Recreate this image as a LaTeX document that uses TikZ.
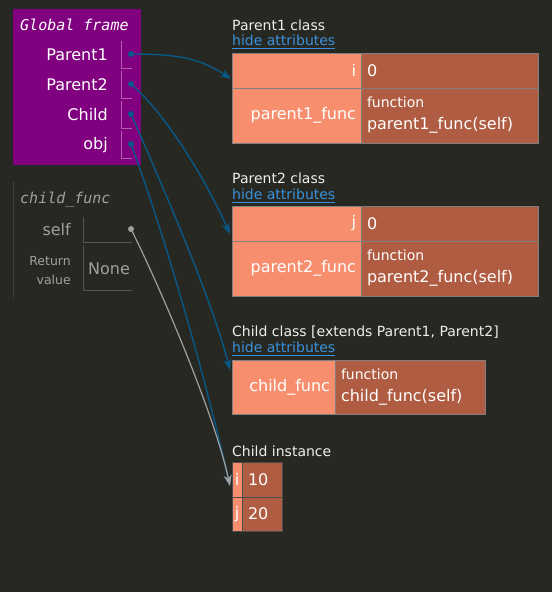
\documentclass[tikz,border=0pt]{standalone}
\usepackage{fontspec}
\usepackage{amsmath}
\usepackage{amssymb}
\setmainfont{DejaVu Sans}
\setmonofont{DejaVu Sans Mono}
\usetikzlibrary{arrows.meta}

\definecolor{bgdark}{RGB}{39,40,34}
\definecolor{framepurple}{RGB}{128,0,128}
\definecolor{slotline}{RGB}{176,96,176}
\definecolor{salmon}{RGB}{247,143,111}
\definecolor{rust}{RGB}{176,92,66}
\definecolor{cellgray}{RGB}{128,128,128}
\definecolor{ptrblue}{RGB}{8,88,136}
\definecolor{linkblue}{RGB}{58,145,220}
\definecolor{headtext}{RGB}{238,238,238}
\definecolor{dimtext}{RGB}{160,160,160}
\definecolor{dimline}{RGB}{85,85,85}

\begin{document}
\begin{tikzpicture}[x=1pt,y=-1pt,
    keycell/.style={draw=cellgray,fill=salmon,text=white,align=right,
      inner xsep=5pt,inner ysep=0pt,font=\fontsize{16}{19}\selectfont},
    valcell/.style={draw=cellgray,fill=rust,text=white,align=left,
      inner xsep=6pt,inner ysep=0pt,font=\fontsize{16}{22}\selectfont},
    heading/.style={anchor=west,inner sep=0pt,text=headtext,font=\fontsize{14}{17}\selectfont},
    hidelink/.style={anchor=west,inner sep=0pt,text=linkblue,font=\fontsize{14}{17}\selectfont},
    dot/.style={circle,inner sep=0pt,minimum size=6pt}]

  \fill[bgdark] (0,0) rectangle (552,592);
  \useasboundingbox (0,0) rectangle (552,592);

  % global frame
  \fill[framepurple] (13,9) rectangle (141,165);
  \node (gtitle) at (20,25) [anchor=west,inner sep=0pt,text=white,
    font=\ttfamily\itshape\fontsize{15}{18}\selectfont] {Global frame};

  \begin{scope}[every node/.style={anchor=east,inner sep=0pt,text=white,
      font=\fontsize{16}{19}\selectfont}]
    \node (lp1) at (108,55) {Parent1};
    \node (lp2) at (108,85) {Parent2};
    \node (lch) at (108,115) {Child};
    \node (lobj) at (108,145) {obj};
  \end{scope}

  \begin{scope}[slotline,line width=1pt]
    \draw (121,41) -- (121,68) -- (132,68);
    \draw (121,71) -- (121,98) -- (132,98);
    \draw (121,101) -- (121,128) -- (132,128);
    \draw (121,131) -- (121,158) -- (132,158);
  \end{scope}

  \begin{scope}[every node/.style={dot,fill=ptrblue}]
    \node (dp1) at (131,54) {};
    \node (dp2) at (131,84) {};
    \node (dch) at (131,114) {};
    \node (dobj) at (131,144) {};
  \end{scope}

  % child_func frame
  \draw[dimline,densely dotted,line width=1pt] (13,183) -- (13,298);
  \node (ftitle) at (20,200) [anchor=west,inner sep=0pt,text=dimtext,
    font=\ttfamily\itshape\fontsize{15}{18}\selectfont] {child\_func};
  \node (lself) at (71,230) [anchor=east,inner sep=0pt,text=dimtext,
    font=\fontsize{16}{19}\selectfont] {self};
  \node (lret) at (71,270.5) [anchor=east,inner sep=0pt,text=dimtext,align=right,
    font=\fontsize{12.5}{19}\selectfont] {Return\\value};
  \node (vnone) at (88,269) [anchor=west,inner sep=0pt,text=dimtext,
    font=\fontsize{16}{19}\selectfont] {None};
  \begin{scope}[dimline,line width=1pt]
    \draw (83,217) -- (83,242) -- (132,242);
    \draw (83,246) -- (83,290) -- (132,290);
  \end{scope}
  \node (dself) at (131,229) [dot,fill=dimtext] {};

  % Parent1 class
  \node (p1lbl) at (232,25) [heading] {Parent1 class};
  \node (p1hide) at (232,42) [hidelink] {\underline{hide attributes}};
  \node (p1i) at (296.5,70.5) [keycell,text width=119pt,minimum height=35pt] {i};
  \node (p1iv) at (449.5,70.5) [valcell,text width=165pt,minimum height=35pt] {0};
  \node (p1f) at (296.5,115.5) [keycell,text width=119pt,minimum height=55pt] {parent1\_func};
  \node (p1fv) at (449.5,115.5) [valcell,text width=165pt,minimum height=55pt]
    {{\fontsize{14}{22}\selectfont function}\\parent1\_func(self)};

  % Parent2 class
  \node (p2lbl) at (232,178) [heading] {Parent2 class};
  \node (p2hide) at (232,196) [hidelink] {\underline{hide attributes}};
  \node (p2j) at (296.5,223.5) [keycell,text width=119pt,minimum height=35pt] {j};
  \node (p2jv) at (449.5,223.5) [valcell,text width=165pt,minimum height=35pt] {0};
  \node (p2f) at (296.5,268.5) [keycell,text width=119pt,minimum height=55pt] {parent2\_func};
  \node (p2fv) at (449.5,268.5) [valcell,text width=165pt,minimum height=55pt]
    {{\fontsize{14}{22}\selectfont function}\\parent2\_func(self)};

  % Child class
  \node (chlbl) at (232,332) [heading] {Child class [extends Parent1, Parent2]};
  \node (chhide) at (232,349) [hidelink] {\underline{hide attributes}};
  \node (chf) at (283.5,387) [keycell,text width=93pt,minimum height=54pt] {child\_func};
  \node (chfv) at (410,387) [valcell,text width=138pt,minimum height=54pt]
    {{\fontsize{14}{22}\selectfont function}\\child\_func(self)};

  % Child instance
  \node (oblbl) at (232,451) [heading] {Child instance};
  \begin{scope}[every node/.style={inner sep=0pt,text=white,draw=black!70,
      font=\fontsize{16}{19}\selectfont}]
    \node (obi) at (237,479.5) [fill=salmon,minimum width=10pt,minimum height=35pt] {i};
    \node (obiv) at (262,479.5) [fill=rust,minimum width=40pt,minimum height=35pt,
      text width=28pt,align=left] {10};
    \node (obj) at (237,514) [fill=salmon,minimum width=10pt,minimum height=34pt] {j};
    \node (objv) at (262,514) [fill=rust,minimum width=40pt,minimum height=34pt,
      text width=28pt,align=left] {20};
  \end{scope}

  % pointers
  \coordinate (p1in) at (231,79);
  \coordinate (p2in) at (230,234);
  \coordinate (chin) at (230,370);
  \coordinate (obin) at (230,486);

  \begin{scope}[ptrblue,line width=1.4pt,-{Stealth[length=11pt,width=8pt]}]
    \draw (dp1.center) .. controls +(50,0) and +(-30,-20) .. (p1in);
    \draw (dp2.center) .. controls +(40,35) and +(-20,-45) .. (p2in);
    \draw (dch.center) .. controls +(35,80) and +(-18,-70) .. (chin);
    \draw (dobj.center) .. controls +(35,95) and +(-25,-110) .. (obin);
  \end{scope}

  \draw[dimtext,line width=1.2pt,-{Stealth[length=11pt,width=8pt]}]
    (dself.center) .. controls +(30,60) and +(-15,-70) .. (obin);

\end{tikzpicture}
\end{document}
